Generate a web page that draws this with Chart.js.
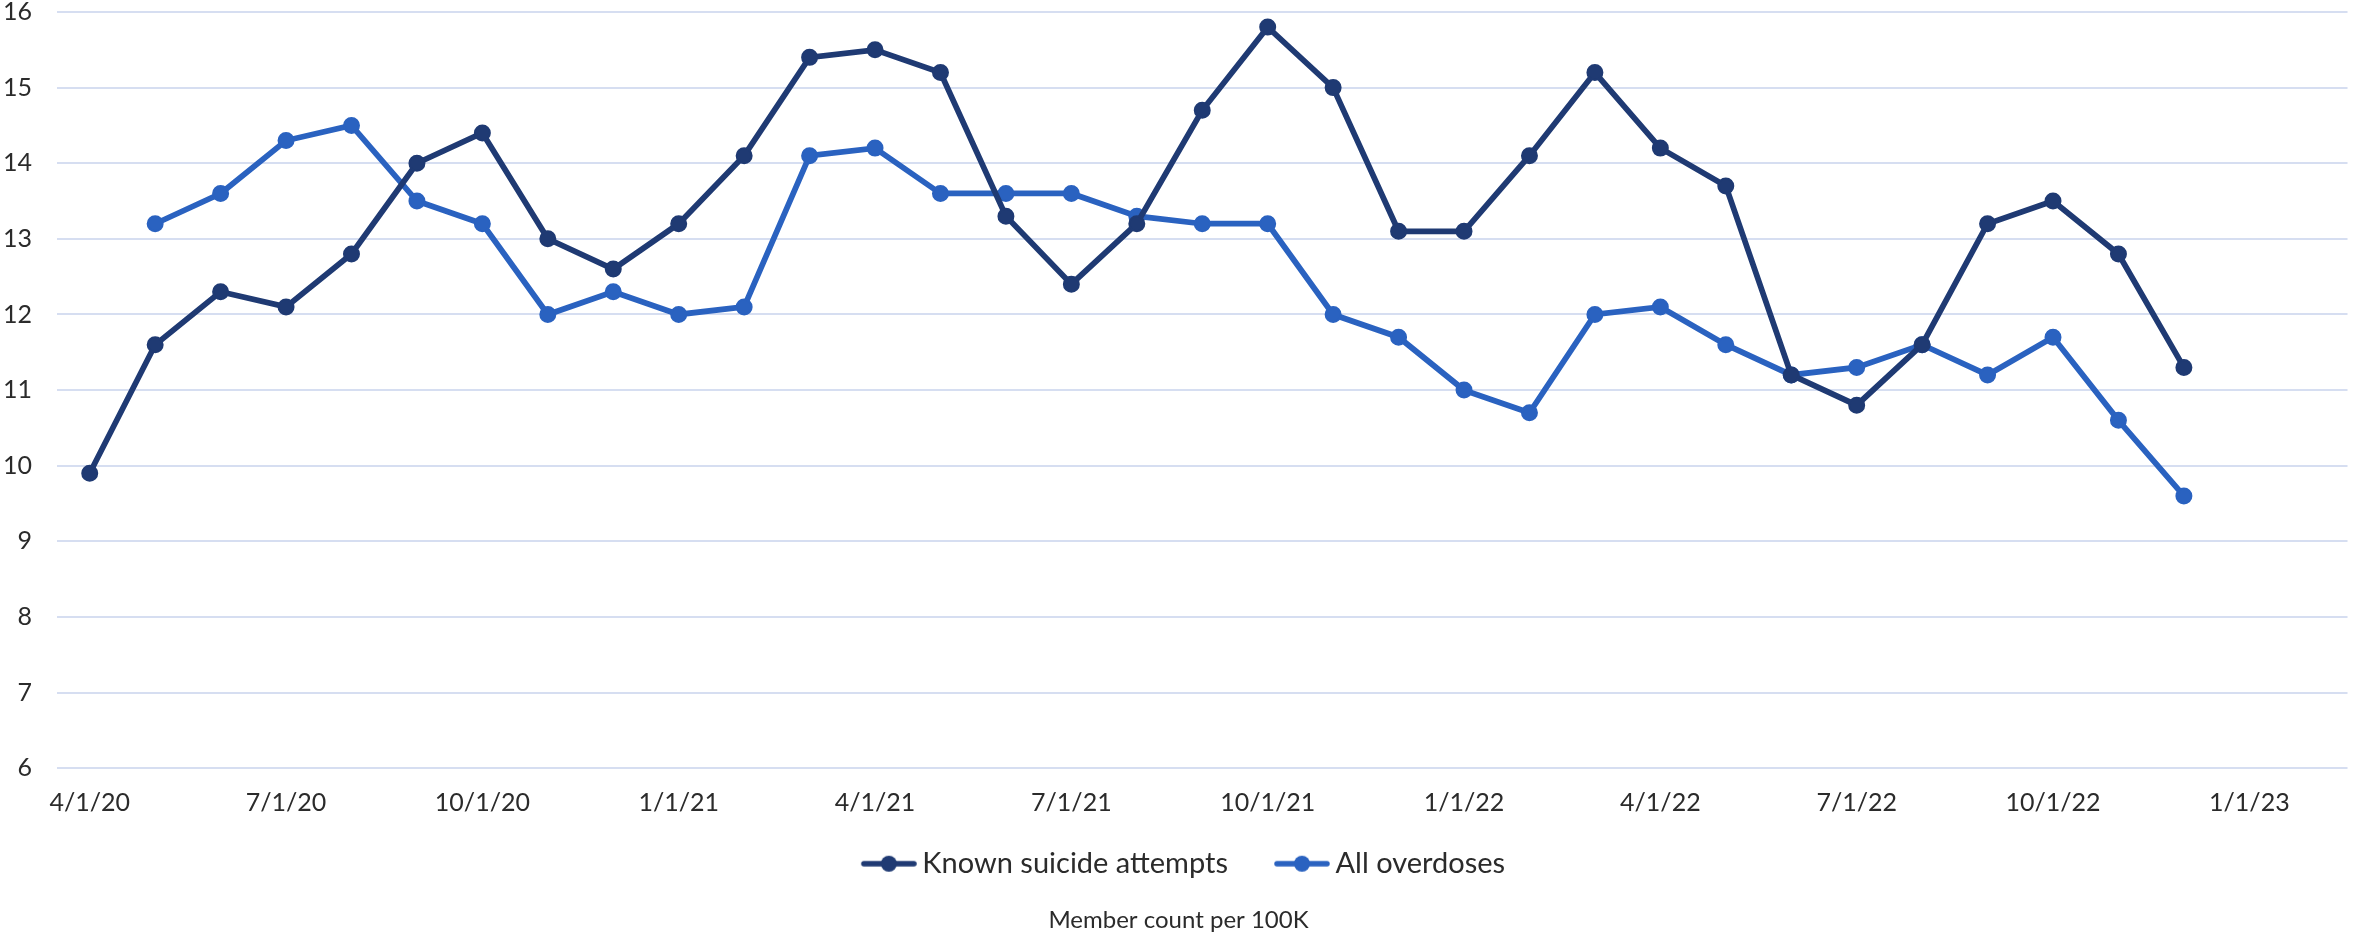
<!DOCTYPE html>
<html>
<head>
<meta charset="utf-8">
<title>Member count per 100K</title>
<script src="https://cdn.jsdelivr.net/npm/chart.js@4/dist/chart.umd.min.js"></script>
<style>
	html, body { margin: 0; padding: 0; background: #fff; }
	#wrap { width: 2357px; height: 938px; position: relative; }
</style>
</head>
<body>
<div id="wrap"><canvas id="myChart"></canvas></div>
<script>
// monthly buckets, Apr 2020 through Feb 2023 (last two are empty so the axis runs past 1/1/23)
const months = [
	'4/1/20', '5/1/20', '6/1/20', '7/1/20', '8/1/20', '9/1/20', '10/1/20', '11/1/20', '12/1/20',
	'1/1/21', '2/1/21', '3/1/21', '4/1/21', '5/1/21', '6/1/21', '7/1/21', '8/1/21', '9/1/21',
	'10/1/21', '11/1/21', '12/1/21', '1/1/22', '2/1/22', '3/1/22', '4/1/22', '5/1/22', '6/1/22',
	'7/1/22', '8/1/22', '9/1/22', '10/1/22', '11/1/22', '12/1/22', '1/1/23', '2/1/23',
];

const suicideAttempts = [
	9.9, 11.6, 12.3, 12.1, 12.8, 14.0, 14.4, 13.0, 12.6,
	13.2, 14.1, 15.4, 15.5, 15.2, 13.3, 12.4, 13.2, 14.7,
	15.8, 15.0, 13.1, 13.1, 14.1, 15.2, 14.2, 13.7, 11.2,
	10.8, 11.6, 13.2, 13.5, 12.8, 11.3,
];

const overdoses = [
	null, 13.2, 13.6, 14.3, 14.5, 13.5, 13.2, 12.0, 12.3,
	12.0, 12.1, 14.1, 14.2, 13.6, 13.6, 13.6, 13.3, 13.2,
	13.2, 12.0, 11.7, 11.0, 10.7, 12.0, 12.1, 11.6, 11.2,
	11.3, 11.6, 11.2, 11.7, 10.6, 9.6,
];

const yMin = 6;
const yMax = 16;

const darkBlue = '#1F3A73';
const midBlue = '#2A62C0';
const textColor = '#2b2b2b';
const fontFamily = 'Lato, "Open Sans", sans-serif';

// legend marker: short line with a dot, pushed right so it sits close to the text
function legendMarker(color) {
	const c = document.createElement('canvas');
	c.width = 74;
	c.height = 18;
	const g = c.getContext('2d');
	g.strokeStyle = color;
	g.lineWidth = 5.5;
	g.lineCap = 'round';
	g.beginPath();
	g.moveTo(21, 9);
	g.lineTo(71, 9);
	g.stroke();
	g.fillStyle = color;
	g.beginPath();
	g.arc(46, 9, 8, 0, Math.PI * 2);
	g.fill();
	return c;
}
const markers = [legendMarker(darkBlue), legendMarker(midBlue)];

function series(label, data, color) {
	return {
		label: label,
		data: data,
		borderColor: color,
		backgroundColor: color,
		borderWidth: 5.75,
		pointRadius: 7.5,
		pointBorderWidth: 2,
		pointBackgroundColor: color,
		pointBorderColor: color,
		pointStyle: 'circle',
		tension: 0,
		spanGaps: false,
	};
}

const ctx = document.getElementById('myChart').getContext('2d');

const chart = new Chart(ctx, {
	type: 'line',
	data: {
		labels: months,
		datasets: [
			series('Known suicide attempts', suicideAttempts, darkBlue),
			series('All overdoses', overdoses, midBlue),
		],
	},
	options: {
		responsive: true,
		maintainAspectRatio: false,
		animation: false,
		devicePixelRatio: 1,
		layout: {
			padding: { left: 0, right: 0, top: 0, bottom: 3 },
		},
		scales: {
			x: {
				type: 'category',
				offset: true,
				afterFit: function (scale) {
					scale.height = 44;
				},
				// tick marks only used as invisible spacing under the plot
				grid: {
					drawOnChartArea: false,
					drawTicks: true,
					tickLength: 20,
					tickColor: 'transparent',
				},
				border: { display: false },
				ticks: {
					autoSkip: false,
					maxRotation: 0,
					minRotation: 0,
					padding: 0,
					color: textColor,
					font: { family: fontFamily, size: 25 },
					callback: function (value, index) {
						return index % 3 === 0 ? months[index] : '';
					},
				},
			},
			y: {
				min: yMin,
				max: yMax,
				afterFit: function (scale) {
					scale.width = 57;
				},
				grid: {
					color: '#D6DEF1',
					lineWidth: 2,
					drawTicks: true,
					tickLength: 25,
					tickColor: 'transparent',
				},
				border: { display: false },
				ticks: {
					stepSize: 1,
					padding: 0,
					color: textColor,
					font: { family: fontFamily, size: 25, lineHeight: 0.96 },
				},
			},
		},
		plugins: {
			legend: {
				position: 'bottom',
				labels: {
					usePointStyle: true,
					pointStyleWidth: 56,
					padding: 37,
					color: textColor,
					font: { family: fontFamily, size: 29 },
					generateLabels: function (chart) {
						const items = Chart.defaults.plugins.legend.labels.generateLabels(chart);
						items.forEach((item, i) => {
							item.pointStyle = markers[i];
						});
						return items;
					},
				},
			},
			title: {
				display: true,
				position: 'bottom',
				text: 'Member count per 100K',
				color: textColor,
				padding: { top: 18, bottom: 0 },
				font: { family: fontFamily, size: 24, weight: 'normal' },
			},
			tooltip: { enabled: false },
		},
	},
});
</script>
</body>
</html>
